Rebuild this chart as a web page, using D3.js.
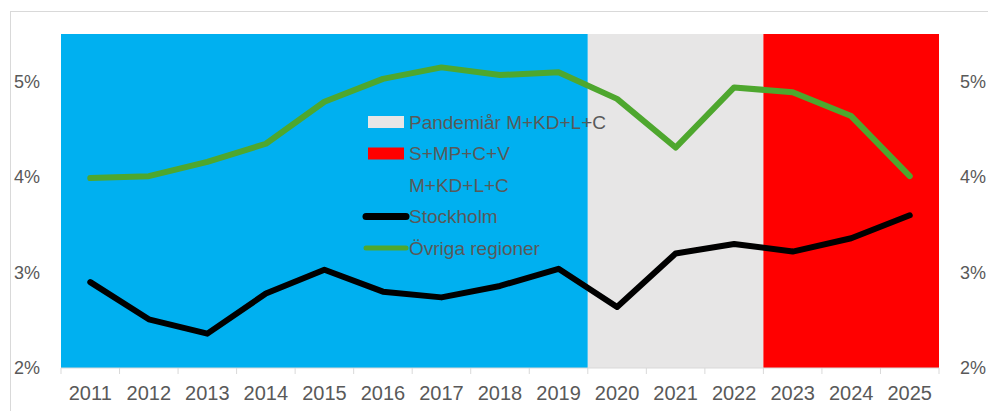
<!DOCTYPE html>
<html>
<head>
<meta charset="utf-8">
<script src="https://cdn.jsdelivr.net/npm/d3@7"></script>
<style>
  body { margin: 0; background: #fff; }
  text { font-family: "Liberation Sans", Arial, sans-serif; fill: #595959; }
</style>
</head>
<body>
<svg id="chart" width="988" height="411"></svg>
<script>
// years on the x axis
var years = [2011, 2012, 2013, 2014, 2015, 2016, 2017, 2018, 2019, 2020, 2021, 2022, 2023, 2024, 2025];
// percent values
var stockholm = [2.90, 2.51, 2.36, 2.78, 3.03, 2.80, 2.74, 2.86, 3.04, 2.64, 3.20, 3.30, 3.22, 3.36, 3.60];
var ovriga    = [3.99, 4.01, 4.16, 4.35, 4.79, 5.03, 5.15, 5.07, 5.10, 4.82, 4.31, 4.94, 4.89, 4.64, 4.01];
var yTicks = [2, 3, 4, 5];

// background periods (government)
var periodLabels = ["M+KD+L+C", "Pandemiår M+KD+L+C", "S+MP+C+V"];
var periodFrom   = [2011, 2020, 2023];
var periodTo     = [2019, 2022, 2025];
var periodColors = ["#00B0F0", "#E7E6E6", "#FF0000"];

var seriesNames  = ["Stockholm", "Övriga regioner"];
var seriesColors = ["#000000", "#4EA72E"];

var svg = d3.select("#chart");

// outer chart frame
svg.append("rect")
    .attr("x", 10.5).attr("y", 11.5)
    .attr("width", 990).attr("height", 420)
    .attr("fill", "none").attr("stroke", "#d9d9d9");

var x = d3.scaleBand().domain(years).range([61, 939]).padding(0);
var y = d3.scaleLinear().domain([2, 5.5]).range([368, 34]);

// period bands
svg.selectAll("rect.band")
    .data(periodLabels)
    .enter()
    .append("rect")
    .attr("class", "band")
    .attr("x", (d, i) => x(periodFrom[i]))
    .attr("y", y(5.5))
    .attr("width", (d, i) => x(periodTo[i]) + x.bandwidth() - x(periodFrom[i]))
    .attr("height", y(2) - y(5.5))
    .attr("fill", (d, i) => periodColors[i]);

// x axis: ticks between categories
var xAxis = svg.append("g").attr("transform", "translate(0," + y(2) + ")");
xAxis.append("line")
    .attr("x1", x.range()[0]).attr("x2", x.range()[1])
    .attr("stroke", "#d9d9d9");
xAxis.selectAll("line.tick")
    .data(years.concat([null]))
    .enter()
    .append("line")
    .attr("x1", (d, i) => i < years.length ? x(d) : x.range()[1])
    .attr("x2", (d, i) => i < years.length ? x(d) : x.range()[1])
    .attr("y1", 0).attr("y2", 6)
    .attr("stroke", "#d9d9d9");
xAxis.selectAll("text")
    .data(years)
    .enter()
    .append("text")
    .attr("x", d => x(d) + x.bandwidth() / 2)
    .attr("y", 32)
    .attr("text-anchor", "middle")
    .style("font-size", "20px")
    .text(d => d);

// left and right y axis labels (no axis lines)
var fmt = d => d + "%";
svg.append("g").selectAll("text")
    .data(yTicks)
    .enter()
    .append("text")
    .attr("x", 40)
    .attr("y", d => y(d))
    .attr("dy", "0.35em")
    .attr("text-anchor", "end")
    .style("font-size", "18px")
    .text(fmt);
svg.append("g").selectAll("text")
    .data(yTicks)
    .enter()
    .append("text")
    .attr("x", 960)
    .attr("y", d => y(d))
    .attr("dy", "0.35em")
    .attr("text-anchor", "start")
    .style("font-size", "18px")
    .text(fmt);

// lines
var line = d3.line()
    .x((d, i) => x(years[i]) + x.bandwidth() / 2)
    .y(d => y(d));

[stockholm, ovriga].forEach(function (vals, k) {
    svg.append("path")
        .datum(vals)
        .attr("d", line)
        .attr("fill", "none")
        .attr("stroke", seriesColors[k])
        .attr("stroke-width", 6)
        .attr("stroke-linejoin", "round")
        .attr("stroke-linecap", "round");
});

// legend
var legendItems = [
    {label: periodLabels[1], color: periodColors[1], type: "box"},
    {label: periodLabels[2], color: periodColors[2], type: "box"},
    {label: periodLabels[0], color: periodColors[0], type: "box"},
    {label: seriesNames[0], color: seriesColors[0], type: "line", w: 7},
    {label: seriesNames[1], color: seriesColors[1], type: "line", w: 5}
];
var legend = svg.append("g").attr("transform", "translate(366,122)");
var row = legend.selectAll("g")
    .data(legendItems)
    .enter()
    .append("g")
    .attr("transform", (d, i) => "translate(0," + (i * 31.5) + ")");
row.filter(d => d.type == "box")
    .append("rect")
    .attr("x", 2).attr("y", -6)
    .attr("width", 36).attr("height", 12)
    .attr("fill", d => d.color);
row.filter(d => d.type == "line")
    .append("line")
    .attr("x1", 0).attr("x2", 40)
    .attr("stroke", d => d.color)
    .attr("stroke-width", d => d.w)
    .attr("stroke-linecap", "round");
row.append("text")
    .attr("x", 43)
    .attr("dy", "0.35em")
    .style("font-size", "19px")
    .text(d => d.label);
</script>
</body>
</html>
